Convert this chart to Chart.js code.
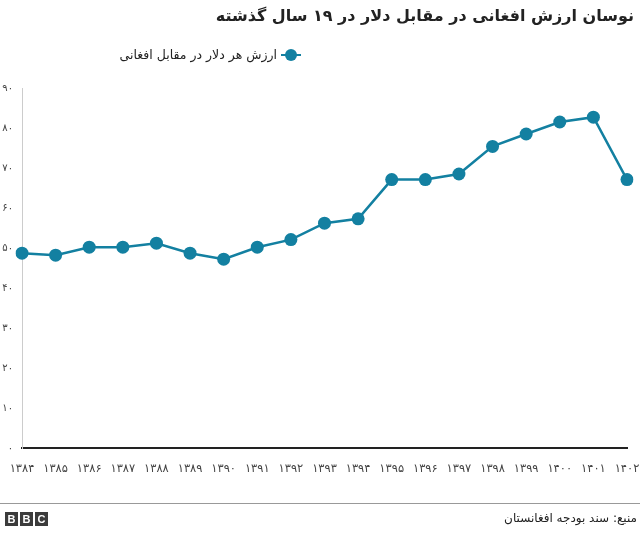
<!DOCTYPE html>
<html>
<head>
<meta charset="utf-8">
<script src="https://cdn.jsdelivr.net/npm/chart.js@4"></script>
<style>
  html, body { margin: 0; padding: 0; background: #fff; }
  body { width: 640px; height: 534px; position: relative; overflow: hidden; font-family: "DejaVu Sans", sans-serif; }
  #wrap { position: absolute; left: 0; top: 0; width: 640px; height: 534px; }
  #title { position: absolute; right: 6px; top: 6px; font-size: 16px; font-weight: bold; color: #222; direction: rtl; white-space: nowrap; }
  #legend { position: absolute; left: 120px; top: 47px; width: 181px; direction: rtl; font-size: 12.5px; color: #222; white-space: nowrap; display: flex; align-items: center; }
  #legend .mk { position: relative; width: 20px; height: 14px; margin-left: 4px; flex: none; }
  #legend .mk .ln { position: absolute; left: 0; right: 0; top: 6px; height: 2px; background: #1380A1; }
  #legend .mk .dt { position: absolute; left: 4px; top: 1px; width: 12px; height: 12px; border-radius: 50%; background: #1380A1; }
  #rule { position: absolute; left: 0; width: 640px; top: 503px; height: 1px; background: #999; }
  #bbc { position: absolute; left: 5px; top: 512px; display: flex; gap: 2px; }
  #bbc span { display: inline-block; width: 13px; height: 14px; background: #3b3b3b; color: #fff; font: bold 11px "Liberation Sans", Arial, sans-serif; text-align: center; line-height: 14px; }
  #source { position: absolute; right: 3px; top: 511px; direction: rtl; font-size: 12px; color: #222; white-space: nowrap; }
</style>
</head>
<body>
<div id="wrap"><canvas id="c" width="640" height="534"></canvas></div>
<div id="title">نوسان ارزش افغانی در مقابل دلار در ۱۹ سال گذشته</div>
<div id="legend"><span class="mk"><span class="ln"></span><span class="dt"></span></span><span id="legtext"></span></div>
<div id="rule"></div>
<div id="bbc"><span>B</span><span>B</span><span>C</span></div>
<div id="source">منبع: سند بودجه افغانستان</div>
<script>
const years = ['۱۳۸۴','۱۳۸۵','۱۳۸۶','۱۳۸۷','۱۳۸۸','۱۳۸۹','۱۳۹۰','۱۳۹۱','۱۳۹۲','۱۳۹۳','۱۳۹۴','۱۳۹۵','۱۳۹۶','۱۳۹۷','۱۳۹۸','۱۳۹۹','۱۴۰۰','۱۴۰۱','۱۴۰۲'];
const afghaniPerDollar = [48.7, 48.2, 50.2, 50.2, 51.2, 48.7, 47.2, 50.2, 52.1, 56.2, 57.3, 67.1, 67.1, 68.5, 75.4, 78.5, 81.5, 82.7, 67.1];
const yTickLabels = ['۰','۱۰','۲۰','۳۰','۴۰','۵۰','۶۰','۷۰','۸۰','۹۰'];
const seriesLabel = 'ارزش هر دلار در مقابل افغانی';

document.getElementById('legtext').textContent = seriesLabel;

new Chart(document.getElementById('c'), {
  type: 'line',
  data: {
    labels: years,
    datasets: [{
      label: seriesLabel,
      data: afghaniPerDollar,
      borderColor: '#1380A1',
      backgroundColor: '#1380A1',
      borderWidth: 2.5,
      pointRadius: 6.5,
      pointHoverRadius: 6.5,
      pointBorderWidth: 0,
      tension: 0
    }]
  },
  options: {
    responsive: false,
    animation: false,
    events: [],
    layout: { padding: { top: 88, right: 13, bottom: 56, left: 0 } },
    plugins: { legend: { display: false }, title: { display: false }, tooltip: { enabled: false } },
    scales: {
      x: {
        offset: false,
        grid: { display: false, drawTicks: false },
        border: { display: true, color: '#222', width: 2 },
        ticks: { color: '#444', font: { family: 'DejaVu Sans', size: 11.5 }, maxRotation: 0, autoSkip: false, padding: 14 },
        afterFit: (s) => { s.height = 30; s.paddingLeft = 0; s.paddingRight = 0; }
      },
      y: {
        min: 0, max: 90,
        grid: { display: false, drawTicks: false },
        border: { display: true, color: '#ccc', width: 1 },
        ticks: {
          stepSize: 10, color: '#444', padding: 9,
          font: { family: 'DejaVu Sans', size: 10 },
          callback: (v) => yTickLabels[Math.round(v / 10)]
        },
        afterFit: (s) => { s.width = 22; s.paddingTop = 0; s.paddingBottom = 0; }
      }
    }
  }
});
</script>
</body>
</html>
